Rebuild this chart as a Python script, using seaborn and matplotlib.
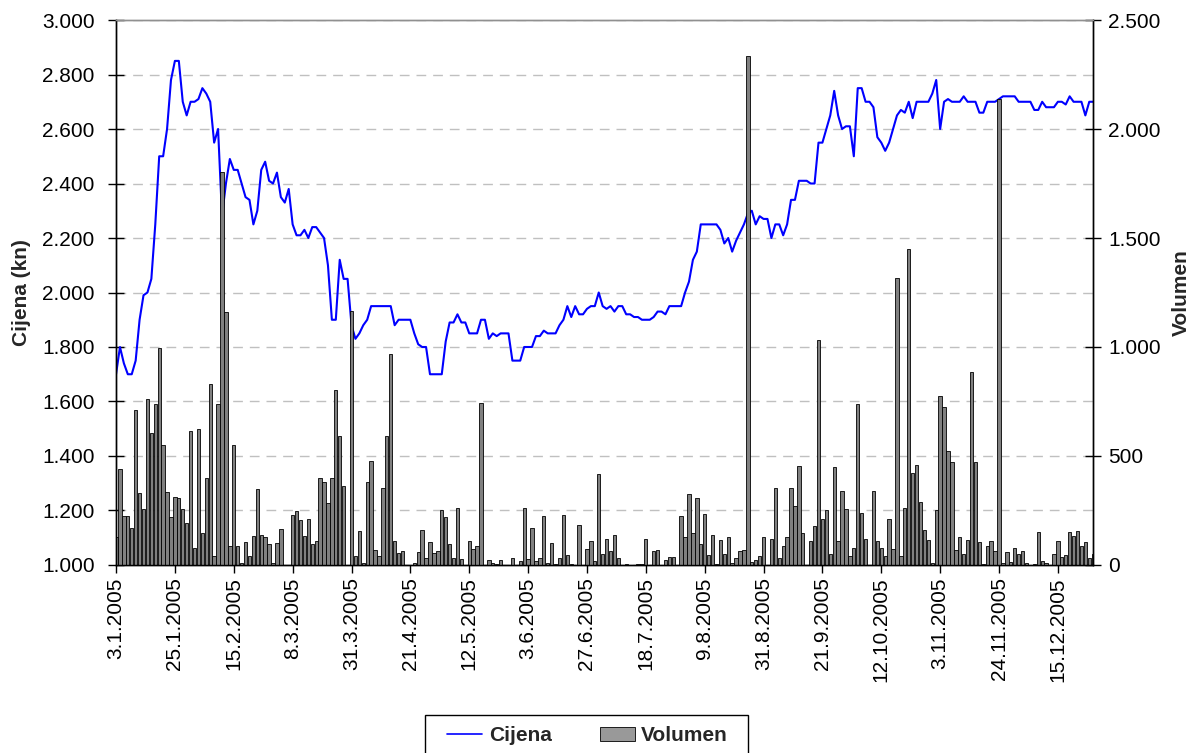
import numpy as np
import pandas as pd
import seaborn as sns
import matplotlib.pyplot as plt
from matplotlib.lines import Line2D
from matplotlib.patches import Patch, Rectangle

sns.set_style('white')
plt.rcParams['font.family'] = ['Liberation Sans', 'DejaVu Sans']

# daily closing price (kn), one value per trading day in 2005
cijena = [
    1.70, 1.80, 1.74, 1.70, 1.70, 1.75, 1.90, 1.99, 2.00, 2.05,
    2.25, 2.50, 2.50, 2.60, 2.78, 2.85, 2.85, 2.70, 2.65, 2.70,
    2.70, 2.71, 2.75, 2.73, 2.70, 2.55, 2.60, 2.28, 2.40, 2.49,
    2.45, 2.45, 2.40, 2.35, 2.34, 2.25, 2.30, 2.45, 2.48, 2.41,
    2.40, 2.44, 2.35, 2.33, 2.38, 2.25, 2.21, 2.21, 2.23, 2.20,
    2.24, 2.24, 2.22, 2.20, 2.10, 1.90, 1.90, 2.12, 2.05, 2.05,
    1.88, 1.83, 1.85, 1.88, 1.90, 1.95, 1.95, 1.95, 1.95, 1.95,
    1.95, 1.88, 1.90, 1.90, 1.90, 1.90, 1.85, 1.81, 1.80, 1.80,
    1.70, 1.70, 1.70, 1.70, 1.82, 1.89, 1.89, 1.92, 1.89, 1.89,
    1.85, 1.85, 1.85, 1.90, 1.90, 1.83, 1.85, 1.84, 1.85, 1.85,
    1.85, 1.75, 1.75, 1.75, 1.80, 1.80, 1.80, 1.84, 1.84, 1.86,
    1.85, 1.85, 1.85, 1.88, 1.90, 1.95, 1.91, 1.95, 1.92, 1.92,
    1.94, 1.95, 1.95, 2.00, 1.95, 1.94, 1.95, 1.93, 1.95, 1.95,
    1.92, 1.92, 1.91, 1.91, 1.90, 1.90, 1.90, 1.91, 1.93, 1.93,
    1.92, 1.95, 1.95, 1.95, 1.95, 2.00, 2.04, 2.12, 2.15, 2.25,
    2.25, 2.25, 2.25, 2.25, 2.23, 2.18, 2.20, 2.15, 2.19, 2.22,
    2.25, 2.29, 2.30, 2.25, 2.28, 2.27, 2.27, 2.20, 2.25, 2.25,
    2.21, 2.25, 2.34, 2.34, 2.41, 2.41, 2.41, 2.40, 2.40, 2.55,
    2.55, 2.60, 2.65, 2.74, 2.65, 2.60, 2.61, 2.61, 2.50, 2.75,
    2.75, 2.70, 2.70, 2.68, 2.57, 2.55, 2.52, 2.55, 2.60, 2.65,
    2.67, 2.66, 2.70, 2.64, 2.70, 2.70, 2.70, 2.70, 2.73, 2.78,
    2.60, 2.70, 2.71, 2.70, 2.70, 2.70, 2.72, 2.70, 2.70, 2.70,
    2.66, 2.66, 2.70, 2.70, 2.70, 2.71, 2.72, 2.72, 2.72, 2.72,
    2.70, 2.70, 2.70, 2.70, 2.67, 2.67, 2.70, 2.68, 2.68, 2.68,
    2.70, 2.70, 2.69, 2.72, 2.70, 2.70, 2.70, 2.65, 2.70, 2.70,
]

# daily traded volume
volumen = [
    130, 440, 223, 223, 169, 712, 328, 258, 762, 606,
    740, 996, 551, 335, 221, 310, 307, 258, 193, 616,
    78, 626, 148, 400, 830, 41, 740, 1801, 1160, 88,
    551, 88, 11, 106, 41, 132, 350, 138, 128, 96,
    11, 101, 166, 0, 0, 228, 247, 206, 133, 211,
    96, 109, 401, 380, 284, 401, 805, 592, 362, 0,
    1167, 39, 154, 10, 380, 478, 68, 41, 351, 592,
    967, 109, 57, 65, 0, 0, 11, 60, 161, 33,
    107, 55, 65, 252, 218, 96, 34, 262, 28, 0,
    109, 73, 89, 743, 0, 23, 11, 6, 23, 0,
    0, 34, 0, 16, 262, 28, 171, 20, 33, 224,
    10, 99, 6, 34, 229, 44, 6, 0, 182, 0,
    73, 109, 18, 418, 49, 117, 65, 137, 34, 0,
    5, 0, 0, 5, 5, 117, 0, 65, 68, 0,
    23, 37, 37, 0, 224, 130, 325, 146, 307, 94,
    234, 44, 138, 6, 115, 50, 127, 10, 33, 65,
    68, 2336, 13, 23, 41, 127, 0, 119, 351, 33,
    88, 128, 351, 271, 455, 145, 0, 109, 179, 1034,
    211, 250, 50, 450, 109, 340, 258, 41, 80, 740,
    237, 120, 0, 340, 109, 80, 39, 211, 72, 1318,
    41, 262, 1450, 423, 458, 288, 161, 115, 11, 252,
    775, 723, 523, 471, 68, 128, 49, 115, 884, 471,
    106, 5, 89, 109, 63, 2136, 10, 60, 13, 80,
    49, 65, 10, 0, 5, 150, 18, 10, 0, 50,
    109, 37, 44, 150, 135, 154, 89, 106, 34, 52,
]

datumi = ['3.1.2005', '25.1.2005', '15.2.2005', '8.3.2005', '31.3.2005',
          '21.4.2005', '12.5.2005', '3.6.2005', '27.6.2005', '18.7.2005',
          '9.8.2005', '31.8.2005', '21.9.2005', '12.10.2005', '3.11.2005',
          '24.11.2005', '15.12.2005']

cijena_ticks = ['1.000', '1.200', '1.400', '1.600', '1.800', '2.000',
                '2.200', '2.400', '2.600', '2.800', '3.000']
volumen_ticks = ['0', '500', '1.000', '1.500', '2.000', '2.500']

df = pd.DataFrame({'dan': np.arange(len(cijena)), 'cijena': cijena,
                   'volumen': volumen})

fs = 15

fig = plt.figure(figsize=(12, 7.53), dpi=100)
ax = fig.add_axes([0.0967, 0.2497, 0.8143, 0.7237])

sns.lineplot(data=df, x='dan', y='cijena', ax=ax, color='#0000ff',
             linewidth=1.5)

ax2 = ax.twinx()
sns.barplot(data=df, x='dan', y='volumen', ax=ax2, color='#808080',
            saturation=1, width=0.85, edgecolor='black', linewidth=0.6)

n = len(cijena)
ax.set_xlim(0, n - 1)
ax.set_ylim(1.0, 3.0)
ax2.set_ylim(0, 2500)

ax.set_yticks(np.linspace(1.0, 3.0, 11))
ax.set_yticklabels(cijena_ticks, fontsize=fs)
ax2.set_yticks(np.linspace(0, 2500, 6))
ax2.set_yticklabels(volumen_ticks, fontsize=fs)

ax.set_xticks(np.arange(0, n, 15))
ax.set_xticklabels(datumi, rotation=90, fontsize=fs)

ax.yaxis.grid(True, linestyle=(0, (7, 5)), color='#c0c0c0', linewidth=1)
ax.xaxis.grid(False)
ax2.grid(False)

ax.set_xlabel('')
ax.set_ylabel('Cijena (kn)', fontsize=fs, fontweight='bold', labelpad=8)
ax2.set_ylabel('Volumen', fontsize=fs, fontweight='bold', labelpad=8)

for a in (ax, ax2):
    for s in ('left', 'right', 'bottom'):
        a.spines[s].set_color('black')
        a.spines[s].set_linewidth(1)
    a.spines['top'].set_color('#909090')
    a.spines['top'].set_linewidth(1)

ax.tick_params(axis='y', direction='inout', length=12, width=1, pad=9.5,
               left=True, colors='black')
ax2.tick_params(axis='y', direction='inout', length=12, width=1, pad=5,
                right=True, colors='black')
ax.tick_params(axis='x', direction='out', length=6, width=1, pad=3,
               bottom=True, colors='black')

# legend below the plot, with its own box (cut off by the figure edge)
handles = [Line2D([], [], color='#0000ff', linewidth=1.2),
           Patch(facecolor='#999999', edgecolor='black', linewidth=0.6)]
leg = fig.legend(handles, ['Cijena', 'Volumen'], loc='center',
                 bbox_to_anchor=(0.4896, 0.0226), ncol=2, frameon=False,
                 handlelength=1.7, handletextpad=0.3, columnspacing=2.3,
                 prop={'weight': 'bold', 'size': fs})
fig.patches.append(Rectangle((425 / 1200, -0.02), 323 / 1200, 0.0705,
                             transform=fig.transFigure, fill=False,
                             edgecolor='black', linewidth=1))

fig.savefig('out.png', dpi=100)
